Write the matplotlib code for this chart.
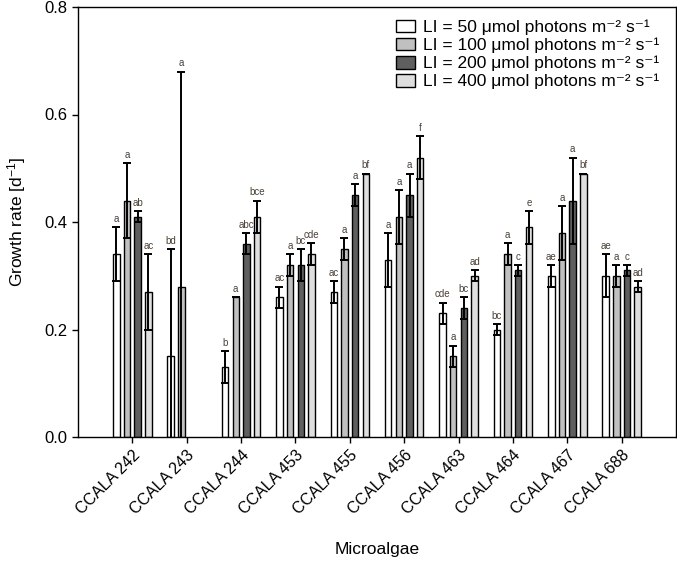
import numpy as np
import matplotlib
matplotlib.use("Agg")
import matplotlib.pyplot as plt

plt.rcParams["font.family"] = ["Liberation Sans", "DejaVu Sans"]
plt.rcParams["mathtext.fontset"] = "custom"
plt.rcParams["mathtext.rm"] = "Liberation Sans"
plt.rcParams["mathtext.it"] = "Liberation Sans"

strains = ["CCALA 242", "CCALA 243", "CCALA 244", "CCALA 453", "CCALA 455",
           "CCALA 456", "CCALA 463", "CCALA 464", "CCALA 467", "CCALA 688"]

li50 = [0.34, 0.15, 0.13, 0.26, 0.27, 0.33, 0.23, 0.20, 0.30, 0.30]
li100 = [0.44, 0.28, 0.26, 0.32, 0.35, 0.41, 0.15, 0.34, 0.38, 0.30]
li200 = [0.41, np.nan, 0.36, 0.32, 0.45, 0.45, 0.24, 0.31, 0.44, 0.31]
li400 = [0.27, np.nan, 0.41, 0.34, 0.49, 0.52, 0.30, 0.39, 0.49, 0.28]

err50 = [0.05, 0.20, 0.03, 0.02, 0.02, 0.05, 0.02, 0.01, 0.02, 0.04]
err100 = [0.07, 0.40, 0.0, 0.02, 0.02, 0.05, 0.02, 0.02, 0.05, 0.02]
err200 = [0.01, np.nan, 0.02, 0.03, 0.02, 0.04, 0.02, 0.01, 0.08, 0.01]
err400 = [0.07, np.nan, 0.03, 0.02, 0.0, 0.04, 0.01, 0.03, 0.0, 0.01]

let50 = ["a", "bd", "b", "ac", "ac", "a", "cde", "bc", "ae", "ae"]
let100 = ["a", "a", "a", "a", "a", "a", "a", "a", "a", "a"]
let200 = ["ab", "", "abc", "bc", "a", "a", "bc", "c", "a", "c"]
let400 = ["ac", "", "bce", "cde", "bf", "f", "ad", "e", "bf", "ad"]

series = [li50, li100, li200, li400]
errors = [err50, err100, err200, err400]
letters = [let50, let100, let200, let400]
colors = ["white", "#c0c0c0", "#5f5f5f", "#dedede"]
labels = ["LI = %d μmol photons m⁻² s⁻¹" % v for v in (50, 100, 200, 400)]

fig = plt.figure(figsize=(6.77, 5.65), dpi=100)
ax = fig.add_axes([78 / 677, 128 / 565, 598 / 677, 430 / 565])

x = np.arange(len(strains))
pitch = 0.196
width = 0.12
for i in range(4):
    pos = x + (i - 1.5) * pitch
    vals = np.array(series[i], dtype=float)
    errs = np.array(errors[i], dtype=float)
    ax.bar(pos, vals, width, color=colors[i], edgecolor="black",
           linewidth=1.0, label=labels[i], zorder=2)
    ax.errorbar(pos, vals, yerr=errs, fmt="none", ecolor="black",
                elinewidth=1.4, capsize=2.6, capthick=1.4, zorder=3)
    for p, v, e, t in zip(pos, vals, errs, letters[i]):
        if np.isnan(v) or not t:
            continue
        ax.text(p, v + e + 0.006, t, ha="center", va="bottom",
                fontsize=7, color="#4a4036")

ax.set_xlim(-1, 10)
ax.set_ylim(0, 0.8)
ax.set_yticks([0.0, 0.2, 0.4, 0.6, 0.8])
ax.set_yticklabels(["0.0", "0.2", "0.4", "0.6", "0.8"], fontsize=12)
ax.set_xticks(x)
ax.set_xticklabels(strains, rotation=45, ha="right", rotation_mode="anchor",
                   fontsize=11.5)
ax.tick_params(axis="both", direction="out", length=4, width=1)
for s in ax.spines.values():
    s.set_linewidth(1)

ax.set_ylabel(r"Growth rate [d$^{-1}$]", fontsize=12.5, labelpad=12)
ax.set_xlabel("Microalgae", fontsize=12.5, labelpad=18)

ax.legend(loc="upper right", bbox_to_anchor=(0.99, 0.995), frameon=False,
          fontsize=12.5, handlelength=1.1, handleheight=0.75, handletextpad=0.5,
          labelspacing=0.15, borderaxespad=0.2)

fig.savefig("out.png", dpi=100)
